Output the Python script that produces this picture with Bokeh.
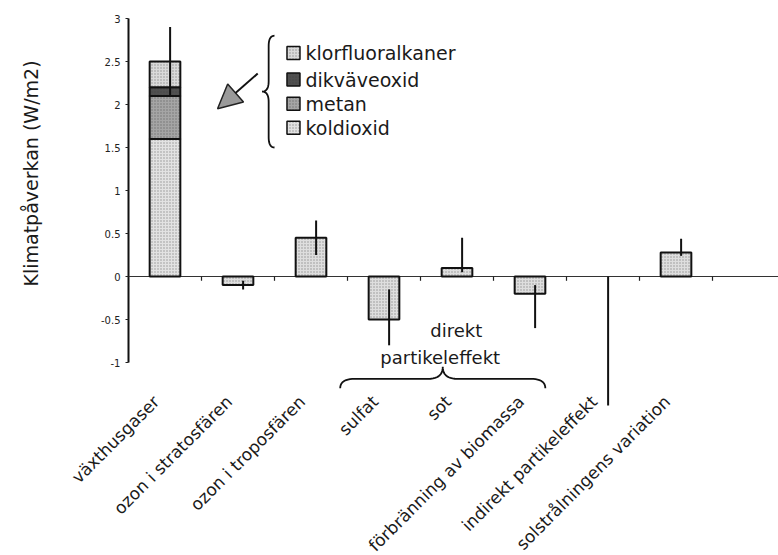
import numpy as np
from math import pi
from bokeh.plotting import figure
from bokeh.models import Range1d, FixedTicker, Arrow, NormalHead
from bokeh.core.properties import value
from bokeh.embed import file_html
from bokeh.resources import INLINE

# ---- data ----
categories = ["växthusgaser", "ozon i stratosfären", "ozon i troposfären", "sulfat",
              "sot", "förbränning av biomassa", "indirekt partikeleffekt",
              "solstrålningens variation"]
bar_values = [2.5, -0.1, 0.45, -0.5, 0.1, -0.2, float("nan"), 0.28]
err_low = [2.1, -0.15, 0.25, -0.8, 0.05, -0.6, -1.5, 0.24]
err_high = [2.9, -0.05, 0.65, -0.15, 0.45, -0.1, 0.0, 0.44]

gases = ["koldioxid", "metan", "dikväveoxid", "klorfluoralkaner"]
gas_values = [1.6, 0.5, 0.1, 0.3]
gas_fill = ["#e2e2e2", "#a5a5a5", "#505050", "#dadada"]

y_ticks = [-1, -0.5, 0, 0.5, 1, 1.5, 2, 2.5, 3]
y_tick_labels = ["-1", "-0.5", "0", "0.5", "1", "1.5", "2", "2.5", "3"]

group_label = ["direkt", "partikeleffekt"]
y_title = "Klimatpåverkan (W/m2)"

FONT = value("DejaVu Sans")

# ---- figure (frame covers the whole canvas) ----
W, H = 778, 555
px_x = 73.0   # pixels per category
px_y = 86.0   # pixels per unit
axis_px = 128        # y axis position from canvas left
zero_px = 276        # zero line from canvas top
x0 = -0.5 - axis_px / px_x
x1 = -0.5 + (W - axis_px) / px_x
y_top = zero_px / px_y
y_bot = -(H - zero_px) / px_y

p = figure(width=W, height=H, x_range=Range1d(x0, x1), y_range=Range1d(y_bot, y_top),
           output_backend="svg", toolbar_location=None, x_axis_location=None,
           min_border=0, min_border_left=0, min_border_right=0,
           min_border_top=0, min_border_bottom=0)
p.outline_line_color = None
p.grid.visible = False
p.background_fill_color = "white"
p.border_fill_color = "white"

# y axis, fixed at the left edge of the first category
yax = p.yaxis[0]
yax.fixed_location = -0.5
yax.ticker = FixedTicker(ticks=y_ticks)
yax.major_label_overrides = {t: l for t, l in zip(y_ticks, y_tick_labels)}
yax.axis_line_color = None
yax.major_tick_out = 3
yax.major_tick_in = 0
yax.minor_tick_line_color = None
yax.major_tick_line_color = "#222222"
yax.major_label_text_font = "DejaVu Sans"
yax.major_label_text_font_size = "10px"
yax.major_label_text_color = "#222222"
yax.major_label_standoff = 5
p.segment(x0=[-0.5], y0=[min(y_ticks)], x1=[-0.5], y1=[max(y_ticks)],
          line_color="#111111", line_width=2)

# zero line + category boundary ticks
bounds = np.arange(len(categories) + 1) - 0.5
p.segment(x0=[-0.5], y0=[0], x1=[x1], y1=[0], line_color="#333333", line_width=1.2)
p.segment(x0=bounds[1:], y0=0, x1=bounds[1:], y1=-0.05, line_color="#222222", line_width=1.2)

hatch = dict(hatch_pattern="dot", hatch_scale=3, hatch_color="#333333", hatch_alpha=0.45)
BW = 0.42

# greenhouse gas stack
tops = np.cumsum(gas_values)
bottoms = tops - np.array(gas_values)
p.vbar(x=[0] * len(gases), bottom=bottoms, top=tops, width=BW, fill_color=gas_fill,
       line_color="#111111", line_width=2, **hatch)

# other bars
xs = [i for i in range(1, len(categories)) if not np.isnan(bar_values[i])]
vals = [bar_values[i] for i in xs]
p.vbar(x=xs, bottom=0, top=vals, width=BW, fill_color="#dedede",
       line_color="#111111", line_width=2, **hatch)

# error lines
ex = np.arange(len(categories)) + 0.07
p.segment(x0=ex, y0=err_low, x1=ex, y1=err_high, line_color="#111111", line_width=2)

# category labels
p.text(x=np.arange(len(categories)) - 0.12, y=-1.42, text=categories, angle=pi / 4,
       text_align="right", text_baseline="middle", text_font=FONT,
       text_font_size="17px", text_color="#1a1a1a")

# legend
rows_y = [2.60, 2.29, 2.01, 1.73]
leg_names = gases[::-1]
leg_fill = gas_fill[::-1]
p.scatter(x=[1.76] * 4, y=rows_y, marker="square", size=13, fill_color=leg_fill,
          line_color="#111111", line_width=1.5, **hatch)
p.text(x=[1.925] * 4, y=rows_y, text=leg_names, text_font=FONT, text_font_size="19px",
       text_baseline="middle", text_color="#1a1a1a")


def quad(a, c, b, n=12):
    t = np.linspace(0, 1, n)[:, None]
    a, b, c = map(np.array, (a, b, c))
    return (1 - t) ** 2 * a + 2 * (1 - t) * t * c + t ** 2 * b


def vbrace(xl, xtip, xend, ytop, ybot):
    ym = (ytop + ybot) / 2
    d = 0.12
    pts = [quad((xend, ytop), (xl, ytop), (xl, ytop - d)),
           np.array([[xl, ytop - d], [xl, ym + d]]),
           quad((xl, ym + d), (xl, ym), (xtip, ym)),
           quad((xtip, ym), (xl, ym), (xl, ym - d)),
           np.array([[xl, ym - d], [xl, ybot + d]]),
           quad((xl, ybot + d), (xl, ybot), (xend, ybot))]
    return np.vstack(pts)


def hbrace(xa, xb, yl, ytip, yend):
    xm = (xa + xb) / 2
    d = 0.2
    pts = [quad((xa, yend), (xa, yl), (xa + d, yl)),
           np.array([[xa + d, yl], [xm - d, yl]]),
           quad((xm - d, yl), (xm, yl), (xm, ytip)),
           quad((xm, ytip), (xm, yl), (xm + d, yl)),
           np.array([[xm + d, yl], [xb - d, yl]]),
           quad((xb - d, yl), (xb, yl), (xb, yend))]
    return np.vstack(pts)


vb = vbrace(1.42, 1.33, 1.50, 2.80, 1.50)
p.line(vb[:, 0], vb[:, 1], line_color="#111111", line_width=1.8)

hb = hbrace(2.40, 5.21, -1.19, -1.05, -1.30)
p.line(hb[:, 0], hb[:, 1], line_color="#111111", line_width=1.8)

p.text(x=[3.99, 3.77], y=[-0.63, -0.94], text=group_label, text_font=FONT,
       text_font_size="18px", text_align="center", text_baseline="middle",
       text_color="#1a1a1a")

# arrow from legend to the stacked bar
p.add_layout(Arrow(end=NormalHead(size=24, fill_color="#9a9a9a", line_color="#222222", line_width=1.5),
                   x_start=1.27, y_start=2.36, x_end=0.72, y_end=1.95,
                   line_color="#111111", line_width=2))

# y title
p.text(x=[-1.842], y=[1.198], text=[y_title], angle=pi / 2, text_align="center",
       text_baseline="middle", text_font=FONT, text_font_size="19px",
       text_color="#1a1a1a")

open("out.html", "w").write(file_html(p, INLINE))
